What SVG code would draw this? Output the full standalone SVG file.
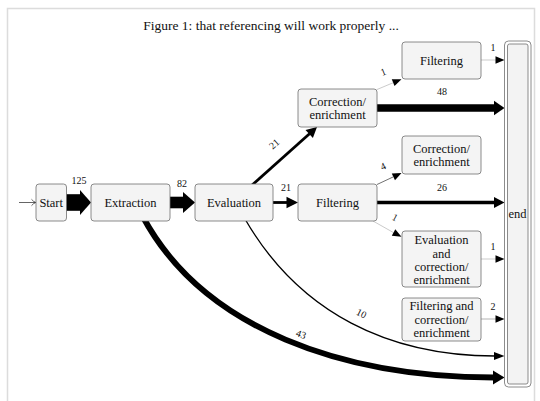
<svg xmlns="http://www.w3.org/2000/svg" width="540" height="401" viewBox="0 0 540 401">
<style>
  text { font-family: "Liberation Serif", "DejaVu Serif", serif; fill: #111; }
  .title { font-size: 13.5px; text-anchor: middle; }
  .nl { font-size: 12.5px; text-anchor: middle; }
  .num { font-size: 10px; text-anchor: middle; }
  .box { fill: #f4f4f4; stroke: #6e6e6e; stroke-width: 0.8; }
  .frame { fill: none; stroke: #dcdcdc; stroke-width: 1.5; }
  .c1 { fill: none; stroke: #a8a8a8; stroke-width: 0.6; }
  .c2 { fill: none; stroke: #808080; stroke-width: 0.6; }
  .c4 { fill: none; stroke: #333; stroke-width: 0.7; }
  .c10 { fill: none; stroke: #000; stroke-width: 1.35; }
  .c21 { fill: none; stroke: #000; stroke-width: 2.8; }
  .c26 { fill: none; stroke: #000; stroke-width: 3.5; }
  .c43 { fill: none; stroke: #000; stroke-width: 5.8; }
  .c48 { fill: none; stroke: #000; stroke-width: 7.7; }
  .c82 { fill: none; stroke: #000; stroke-width: 11.6; }
  .c125 { fill: none; stroke: #000; stroke-width: 16.6; }
  .head { fill: #000; stroke: none; }
  .in { fill: none; stroke: #222; stroke-width: 0.7; }
</style>
<defs>
  <path id="h1" d="M0,0 L-9,-3.7 L-9,3.7 Z"/>
  <path id="h21" d="M0,0 L-10.5,-5.5 L-10.5,5.5 Z"/>
</defs>

<rect x="0" y="0" width="540" height="401" fill="#ffffff"/>
<path class="frame" d="M7.5,405 V8.5 H534.5 V405"/>

<text class="title" x="271" y="30">Figure 1: that referencing will work properly ...</text>

<g id="connectors">
  <g id="e-input">
    <line class="in" x1="19" y1="202.5" x2="35.5" y2="202.5"/>
    <path class="in" d="M31.5,199.3 Q33.5,201.8 35.8,202.5 Q33.5,203.2 31.5,205.7"/>
  </g>
  <g id="e-start-extraction">
    <line class="c125" x1="60" y1="202.5" x2="80.5" y2="202.5"/>
    <polygon class="head" points="80,190 91,202.5 80,215"/>
    <text class="num" x="79" y="183.5">125</text>
  </g>
  <g id="e-extraction-evaluation">
    <line class="c82" x1="165" y1="202.5" x2="183.5" y2="202.5"/>
    <polygon class="head" points="183,192 195,202.5 183,213"/>
    <text class="num" x="182" y="187">82</text>
  </g>
  <g id="e-evaluation-filtering">
    <line class="c21" x1="270" y1="202.5" x2="288" y2="202.5"/>
    <polygon class="head" points="286.5,196.8 298,202.5 286.5,208.2"/>
    <text class="num" x="286" y="191">21</text>
  </g>
  <g id="e-evaluation-correction">
    <line class="c21" x1="251" y1="186" x2="309.5" y2="133.8"/>
    <use href="#h21" class="head" transform="translate(317,127) rotate(-42.1)"/>
    <text class="num" transform="translate(276.5,146.5) rotate(-42)">21</text>
  </g>
  <g id="e-correction-filtering1">
    <line class="c1" x1="377" y1="89.5" x2="393" y2="82.8"/>
    <use href="#h1" class="head" transform="translate(401.5,79.3) rotate(-22)"/>
    <text class="num" transform="translate(384.5,75) rotate(-22)">1</text>
  </g>
  <g id="e-correction-end">
    <line class="c48" x1="376" y1="108" x2="495" y2="108"/>
    <polygon class="head" points="494,100.8 504.5,108 494,115.2"/>
    <text class="num" x="442" y="94.5">48</text>
  </g>
  <g id="e-filtering1-end">
    <line class="c1" x1="481" y1="60" x2="496" y2="60"/>
    <use href="#h1" class="head" transform="translate(504.5,60)"/>
    <text class="num" x="493" y="50.5">1</text>
  </g>
  <g id="e-filtering-correction2">
    <line class="c4" x1="377" y1="184.5" x2="393" y2="177"/>
    <use href="#h1" class="head" transform="translate(401.5,173) rotate(-25.5)"/>
    <text class="num" transform="translate(384.5,169.5) rotate(-25)">4</text>
  </g>
  <g id="e-filtering-end">
    <line class="c26" x1="376" y1="202.5" x2="495" y2="202.5"/>
    <polygon class="head" points="494,197 504.5,202.5 494,208"/>
    <text class="num" x="442" y="191">26</text>
  </g>
  <g id="e-filtering-evalcorr">
    <line class="c1" x1="373" y1="221" x2="393.5" y2="232.6"/>
    <use href="#h1" class="head" transform="translate(401.5,236.8) rotate(28)"/>
    <text class="num" transform="translate(393.5,220.5) rotate(28)">1</text>
  </g>
  <g id="e-evalcorr-end">
    <line class="c1" x1="481" y1="259" x2="496" y2="259"/>
    <use href="#h1" class="head" transform="translate(504.5,259)"/>
    <text class="num" x="493" y="249.5">1</text>
  </g>
  <g id="e-filtcorr-end">
    <line class="c2" x1="481" y1="319" x2="496" y2="319"/>
    <use href="#h1" class="head" transform="translate(504.5,319)"/>
    <text class="num" x="493" y="309.5">2</text>
  </g>
  <g id="e-evaluation-end">
    <path class="c10" d="M245,219 C300,314 390,356 495,356"/>
    <polygon class="head" points="494,352 504.5,356 494,360"/>
    <text class="num" transform="translate(360,316.5) rotate(26)">10</text>
  </g>
  <g id="e-extraction-end">
    <path class="c43" d="M143,217 C204,330 345,377.5 494,377.5"/>
    <polygon class="head" points="493,370.5 504.5,377.5 493,384.5"/>
    <text class="num" transform="translate(300,337.5) rotate(20)">43</text>
  </g>
</g>

<g id="n-start">
  <rect class="box" x="36" y="184" width="30.5" height="37" rx="3"/>
  <text class="nl" x="51.2" y="206.8">Start</text>
</g>
<g id="n-extraction">
  <rect class="box" x="91" y="184" width="79" height="37" rx="3"/>
  <text class="nl" x="130.5" y="206.8">Extraction</text>
</g>
<g id="n-evaluation">
  <rect class="box" x="195" y="184" width="78" height="37" rx="3"/>
  <text class="nl" x="234" y="206.8">Evaluation</text>
</g>
<g id="n-filtering">
  <rect class="box" x="298" y="184" width="79" height="37" rx="3"/>
  <text class="nl" x="337.5" y="206.8">Filtering</text>
</g>
<g id="n-correction">
  <rect class="box" x="298" y="89" width="79" height="38" rx="3"/>
  <text class="nl" x="337.5" y="105.8">Correction/</text>
  <text class="nl" x="337.5" y="119.2">enrichment</text>
</g>
<g id="n-filtering-top">
  <rect class="box" x="402" y="42" width="79" height="37" rx="3"/>
  <text class="nl" x="441.5" y="64.8">Filtering</text>
</g>
<g id="n-correction-right">
  <rect class="box" x="402" y="136" width="79" height="38" rx="3"/>
  <text class="nl" x="441.5" y="152.5">Correction/</text>
  <text class="nl" x="441.5" y="165.8">enrichment</text>
</g>
<g id="n-evalcorr">
  <rect class="box" x="402" y="231" width="79" height="56" rx="3"/>
  <text class="nl" x="441.5" y="244.2">Evaluation</text>
  <text class="nl" x="441.5" y="257.5">and</text>
  <text class="nl" x="441.5" y="270.8">correction/</text>
  <text class="nl" x="441.5" y="284">enrichment</text>
</g>
<g id="n-filtcorr">
  <rect class="box" x="402" y="298" width="79" height="43" rx="3"/>
  <text class="nl" x="441.5" y="310.2">Filtering and</text>
  <text class="nl" x="441.5" y="323.8">correction/</text>
  <text class="nl" x="441.5" y="337.2">enrichment</text>
</g>
<g id="n-end">
  <rect x="504.5" y="41" width="26.5" height="346" rx="4" fill="#ffffff" stroke="#6e6e6e" stroke-width="0.8"/>
  <rect x="507.5" y="44" width="20.5" height="340" rx="2" fill="#f3f3f3" stroke="#6e6e6e" stroke-width="0.8"/>
  <text class="nl" x="517.5" y="218">end</text>
</g>
</svg>
